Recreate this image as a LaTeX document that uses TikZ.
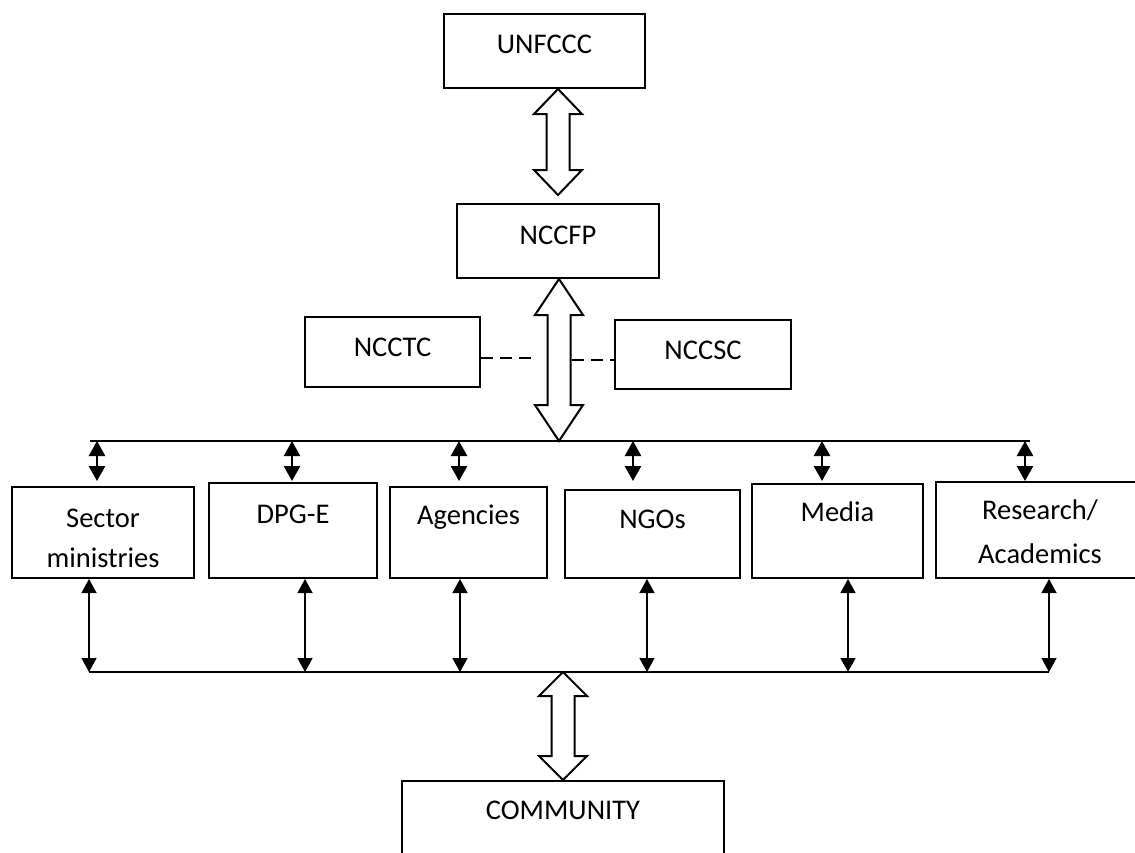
\documentclass[tikz,border=0pt]{standalone}
\usepackage{fontspec}
\setmainfont{Carlito}
\usetikzlibrary{arrows.meta,calc}

\tikzset{
  unit/.style={draw, line width=2pt, inner sep=0pt, anchor=north, align=center,
    font=\fontsize{28.5}{40}\selectfont},
  uplink/.style={line width=2.5pt, {Triangle[width=16pt,length=15pt]}-{Triangle[width=16pt,length=15pt]}},
  downlink/.style={line width=1.5pt, {Triangle[width=15pt,length=14pt]}-{Triangle[width=15pt,length=14pt]}},
  bus/.style={line width=2.5pt},
  linkdash/.style={line width=1.8pt, dash pattern=on 12pt off 7pt}
}

% hollow double arrow between two tips
\newcommand{\fatarrow}[3]{%
  \draw[line width=2pt, fill=white, line join=miter]
    (#1) -- ($(#1)+(24,#3)$) -- ($(#1)+(11.5,#3)$) -- ($(#2)+(11.5,-#3)$) -- ($(#2)+(24,-#3)$) -- (#2)
    -- ($(#2)+(-24,-#3)$) -- ($(#2)+(-11.5,-#3)$) -- ($(#1)+(-11.5,#3)$) -- ($(#1)+(-24,#3)$) -- cycle;}

\begin{document}
\begin{tikzpicture}[x=1pt,y=-1pt]
\useasboundingbox (0,0) rectangle (1135,852);
\clip (0,0) rectangle (1135,852);

% top of the chart
\node[unit, minimum width=201pt, text height=39pt, text depth=35pt] (unfccc) at (544.5,13) {UNFCCC};
\node[unit, minimum width=202pt, text height=40pt, text depth=34pt] (nccfp) at (558,203) {NCCFP};
\node[unit, minimum width=175pt, text height=39pt, text depth=31pt] (ncctc) at (392.5,316) {NCCTC};
\node[unit, minimum width=176pt, text height=39pt, text depth=30pt] (nccsc) at (703,319) {NCCSC};

% stakeholders
\node[unit, minimum width=182pt, text height=80pt, text depth=11pt] (sector) at (103,486) {Sector\\ministries};
\node[unit, minimum width=168pt, text height=40pt, text depth=55pt] (dpg) at (293,482) {DPG-E};
\node[unit, minimum width=157pt, text height=37pt, text depth=54pt] (agencies) at (468.5,486) {Agencies};
\node[unit, minimum width=175pt, text height=38pt, text depth=50pt] (ngos) at (652.5,489) {NGOs};
\node[unit, minimum width=171pt, text height=37pt, text depth=57pt] (media) at (837.5,483) {Media};
\node[unit, minimum width=208pt, text height=81pt, text depth=15pt] (research) at (1040,481) {Research/\\[4pt]Academics};
\node[unit, minimum width=322pt, text height=38pt, text depth=80pt] (community) at (563,780) {COMMUNITY};

% bus lines
\coordinate (topL) at (90,441);   \coordinate (topR) at (1030,441);
\coordinate (botL) at (89,672);   \coordinate (botR) at (1049,672);
\coordinate (tipline) at (0,481);
\draw[bus] (topL) -- (topR);
\draw[line width=1.5pt] (botL) -- (botR);

\foreach \b/\up/\dn in {sector/-6/-14, dpg/-1/12, agencies/-9.5/-8.5, ngos/-19.5/-5.5, media/-15.5/10.5, research/-15/9}{
  \draw[uplink] ([xshift=\up pt]\b.north |- topL) -- ([xshift=\up pt]\b.north |- tipline);
  \draw[downlink] ([xshift=\dn pt]\b.south) -- ([xshift=\dn pt]\b.south |- botL);
}

% dashed links to the committees
\draw[linkdash] ([yshift=-6pt]ncctc.east) -- ++(50,0);
\draw[linkdash] ([yshift=-5.5pt]nccsc.west) ++(-42,0) -- ++(42,0);

% hollow arrows
\coordinate (a1) at (nccfp.north |- unfccc.south);
\coordinate (a2) at ([yshift=8pt]nccfp.north);
\fatarrow{a1}{a2}{25}
\coordinate (b1) at ([xshift=1pt]nccfp.south);
\coordinate (b2) at (b1 |- topL);
\fatarrow{b1}{b2}{36}
\coordinate (c1) at (community.north |- botL);
\fatarrow{c1}{community.north}{24}

\end{tikzpicture}
\end{document}
